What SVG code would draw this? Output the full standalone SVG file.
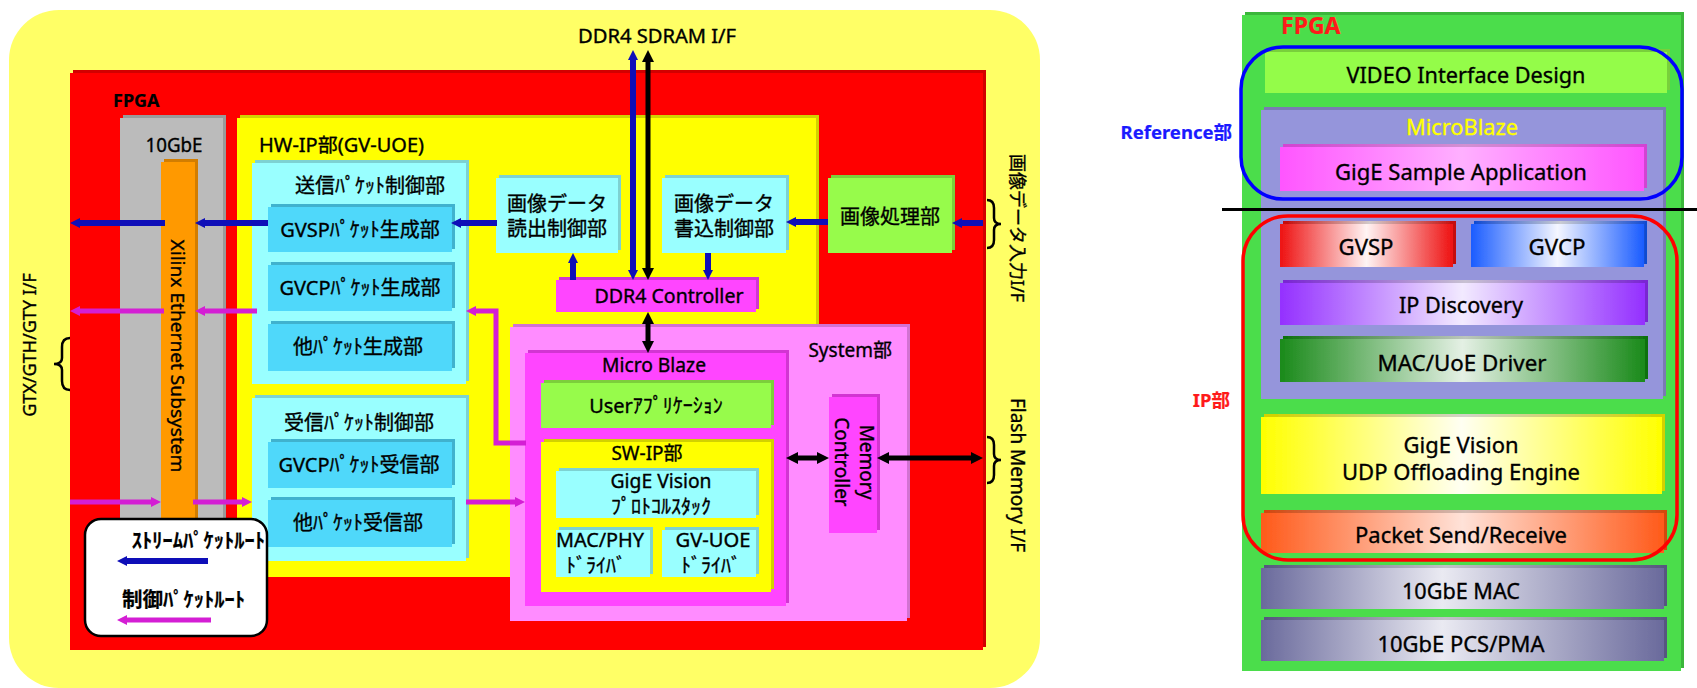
<svg xmlns="http://www.w3.org/2000/svg" width="1697" height="688" viewBox="0 0 1697 688">
<style>
text { font-family: 'Noto Sans', 'Noto Sans CJK JP', sans-serif; fill: #000; stroke: #000; stroke-width: 0.35px; font-size: 19px; }
.c { text-anchor: middle; }
.e { text-anchor: end; }
.j { font-size: 20px; }
.r { font-size: 22px; }
.ex { filter: url(#ext); }
.cy { fill: #99FFFF; }
.bl { fill: #50D8FA; }
.ye { fill: #FFFF00; }
.gr { fill: #97FB4B; }
.mg { fill: #FF44FF; }
.pk { fill: #FF8CFF; }
.ab { stroke: #0E0EB8; stroke-width: 6; fill: none; }
.am { stroke: #D41ED4; stroke-width: 5; fill: none; }
.ak { stroke: #000; stroke-width: 5; fill: none; }
.brace { stroke: #000; stroke-width: 2.5; fill: none; }
.lg { font-weight: bold; font-size: 20.5px; stroke-width: 0.2px; }
</style>
<defs>
<filter id="ext" x="-20%" y="-20%" width="140%" height="140%">
<feOffset in="SourceGraphic" dx="3" dy="-3" result="o"/>
<feComponentTransfer in="o" result="d"><feFuncR type="linear" slope="0.65"/><feFuncG type="linear" slope="0.65"/><feFuncB type="linear" slope="0.65"/></feComponentTransfer>
<feMerge><feMergeNode in="d"/><feMergeNode in="SourceGraphic"/></feMerge>
</filter>
<marker id="hb" viewBox="0 0 10 10" refX="2" refY="5" markerWidth="10" markerHeight="10" markerUnits="userSpaceOnUse" orient="auto-start-reverse"><path d="M0,0 L10,5 L0,10 z" fill="#0E0EB8"/></marker>
<marker id="hm" viewBox="0 0 10 10" refX="2" refY="5" markerWidth="10" markerHeight="10" markerUnits="userSpaceOnUse" orient="auto-start-reverse"><path d="M0,0 L10,5 L0,10 z" fill="#D41ED4"/></marker>
<marker id="hk" viewBox="0 0 12 12" refX="2" refY="6" markerWidth="12" markerHeight="12" markerUnits="userSpaceOnUse" orient="auto-start-reverse"><path d="M0,0 L12,6 L0,12 z" fill="#000"/></marker>
<linearGradient id="gRed"><stop offset="0" stop-color="#EE1111"/><stop offset="0.5" stop-color="#FFF4F4"/><stop offset="1" stop-color="#EE1111"/></linearGradient>
<linearGradient id="gBlue"><stop offset="0" stop-color="#1A5CFF"/><stop offset="0.5" stop-color="#F4F6FF"/><stop offset="1" stop-color="#1A5CFF"/></linearGradient>
<linearGradient id="gPur"><stop offset="0" stop-color="#9430FF"/><stop offset="0.5" stop-color="#F2EAFF"/><stop offset="1" stop-color="#9430FF"/></linearGradient>
<linearGradient id="gGrn"><stop offset="0" stop-color="#1A8A1A"/><stop offset="0.5" stop-color="#E4F0E4"/><stop offset="1" stop-color="#1A8A1A"/></linearGradient>
<linearGradient id="gYel"><stop offset="0" stop-color="#FFFF00"/><stop offset="0.5" stop-color="#FFFFF2"/><stop offset="1" stop-color="#FFFF00"/></linearGradient>
<linearGradient id="gOra"><stop offset="0" stop-color="#FF5A1A"/><stop offset="0.5" stop-color="#FFE2D8"/><stop offset="1" stop-color="#FF5A1A"/></linearGradient>
<linearGradient id="gSla"><stop offset="0" stop-color="#6A6A9C"/><stop offset="0.45" stop-color="#EAEAF2"/><stop offset="1" stop-color="#6A6A9C"/></linearGradient>
<linearGradient id="gPnk"><stop offset="0" stop-color="#FF55FF"/><stop offset="0.5" stop-color="#FFB0FF"/><stop offset="1" stop-color="#FF55FF"/></linearGradient>
</defs>

<!-- LEFT DIAGRAM -->
<g id="outer"><rect x="9" y="10" width="1031" height="678" rx="50" fill="#FFFF66"/></g>
<g id="fpga-left"><rect class="ex" x="70" y="73" width="913" height="577" fill="#FF0000"/><text x="113" y="107" style="font-weight:bold;font-size:18px;stroke-width:0.2px">FPGA</text></g>
<g id="tengbe"><rect class="ex" x="120" y="118" width="103" height="442" fill="#BBBBBB"/><text class="c" x="174" y="152" textLength="57" lengthAdjust="spacingAndGlyphs">10GbE</text></g>
<g id="xilinx"><rect class="ex" x="161" y="162" width="34" height="398" fill="#FF9900"/><text class="c" transform="translate(171,356) rotate(90)" style="font-size:18.5px" textLength="233" lengthAdjust="spacingAndGlyphs">Xilinx Ethernet Subsystem</text></g>
<g id="hwip"><rect class="ex" x="237" y="118" width="579" height="459" fill="#FFFF00"/><text x="259" y="152" textLength="165" lengthAdjust="spacingAndGlyphs">HW-IP部(GV-UOE)</text></g>
<g id="send"><rect class="ex cy" x="252" y="163" width="214" height="221"/><text class="c j" x="370" y="193">送信ﾊﾟｹｯﾄ制御部</text></g>
<g id="gvsp-gen"><rect class="ex bl" x="268" y="207" width="184" height="45"/><text class="c j" x="360" y="237">GVSPﾊﾟｹｯﾄ生成部</text></g>
<g id="gvcp-gen"><rect class="ex bl" x="268" y="265" width="184" height="46"/><text class="c j" x="360" y="295">GVCPﾊﾟｹｯﾄ生成部</text></g>
<g id="other-gen"><rect class="ex bl" x="268" y="324" width="184" height="47"/><text class="c j" x="358" y="354">他ﾊﾟｹｯﾄ生成部</text></g>
<g id="recv"><rect class="ex cy" x="252" y="398" width="214" height="163"/><text class="c j" x="359" y="430">受信ﾊﾟｹｯﾄ制御部</text></g>
<g id="gvcp-recv"><rect class="ex bl" x="268" y="442" width="184" height="46"/><text class="c j" x="359" y="472">GVCPﾊﾟｹｯﾄ受信部</text></g>
<g id="other-recv"><rect class="ex bl" x="268" y="500" width="184" height="47"/><text class="c j" x="358" y="530">他ﾊﾟｹｯﾄ受信部</text></g>
<g id="read"><rect class="ex cy" x="496" y="178" width="122" height="75"/><text class="c j" x="557" y="211">画像データ</text><text class="c j" x="557" y="236">読出制御部</text></g>
<g id="write"><rect class="ex cy" x="662" y="178" width="124" height="75"/><text class="c j" x="724" y="211">画像データ</text><text class="c j" x="724" y="236">書込制御部</text></g>
<g id="imgproc"><rect class="ex gr" x="828" y="178" width="124" height="75"/><text class="c j" x="890" y="224">画像処理部</text></g>
<g id="ddr4ctrl"><rect class="ex mg" x="556" y="280" width="200" height="32"/><text class="c" x="669" y="303" textLength="149" lengthAdjust="spacingAndGlyphs">DDR4 Controller</text></g>
<g id="system"><rect class="ex pk" x="510" y="327" width="397" height="294"/><text class="e" x="892" y="357">System部</text></g>
<g id="microblaze"><rect class="ex mg" x="525" y="353" width="261" height="253"/><text class="c" x="654" y="372" textLength="104" lengthAdjust="spacingAndGlyphs">Micro Blaze</text></g>
<g id="userapp"><rect class="ex gr" x="541" y="383" width="230" height="45"/><text class="c j" x="656" y="413">Userｱﾌﾟﾘｹｰｼｮﾝ</text></g>
<g id="swip"><rect class="ex ye" x="541" y="442" width="230" height="150"/><text class="c" x="647" y="460">SW-IP部</text></g>
<g id="gige-stack"><rect class="ex cy" x="556" y="471" width="200" height="47"/><text class="c" x="661" y="488" textLength="101" lengthAdjust="spacingAndGlyphs">GigE Vision</text><text class="c j" x="661" y="514">ﾌﾟﾛﾄｺﾙｽﾀｯｸ</text></g>
<g id="macphy"><rect class="ex cy" x="556" y="530" width="94" height="47"/><text class="c" x="600" y="547" textLength="88" lengthAdjust="spacingAndGlyphs">MAC/PHY</text><text class="c j" x="596" y="573">ﾄﾞﾗｲﾊﾞ</text></g>
<g id="gvuoe-drv"><rect class="ex cy" x="662" y="530" width="94" height="47"/><text class="c" x="713" y="547" textLength="75" lengthAdjust="spacingAndGlyphs">GV-UOE</text><text class="c j" x="711" y="573">ﾄﾞﾗｲﾊﾞ</text></g>
<g id="memctrl"><rect class="ex mg" x="829" y="397" width="48" height="136"/><text class="c" transform="translate(853,462) rotate(90)"><tspan x="0" y="-7">Memory</tspan><tspan x="0" y="18">Controller</tspan></text></g>
<g id="ddr-if"><text class="c" x="657" y="43" textLength="158" lengthAdjust="spacingAndGlyphs">DDR4 SDRAM I/F</text></g>
<g id="img-if"><path class="brace" d="M987,200 Q994,200 994,208 L994,218 Q994,224 1001,224 Q994,224 994,230 L994,240 Q994,248 987,248"/><text class="c j" transform="translate(1011,228) rotate(90)" style="font-size:18px">画像データ入力I/F</text></g>
<g id="flash-if"><path class="brace" d="M987,437 Q994,437 994,445 L994,454 Q994,460 1001,460 Q994,460 994,466 L994,475 Q994,483 987,483"/><text class="c" transform="translate(1011,475) rotate(90)">Flash Memory I/F</text></g>
<g id="gtx-if"><path class="brace" d="M70,338 Q62,338 62,347 L62,358 Q62,364 54,364 Q62,364 62,370 L62,381 Q62,390 70,390"/><text class="c" transform="translate(36,345) rotate(-90)" style="font-size:18px">GTX/GTH/GTY I/F</text></g>
<g id="legend"><rect x="85" y="519" width="182" height="117" rx="16" fill="#FFFFFF" stroke="#000" stroke-width="2.5"/><text class="e lg" x="265" y="548">ｽﾄﾘｰﾑﾊﾟｹｯﾄﾙｰﾄ</text><text class="lg" x="122" y="607">制御ﾊﾟｹｯﾄﾙｰﾄ</text></g>

<g id="connectors">
<line class="ab" x1="497" y1="223" x2="459" y2="223" marker-end="url(#hb)"/>
<line class="ab" x1="268" y1="223" x2="203" y2="223" marker-end="url(#hb)"/>
<line class="ab" x1="165" y1="223" x2="78" y2="223" marker-end="url(#hb)"/>
<line class="ab" x1="828" y1="222" x2="794" y2="222" marker-end="url(#hb)"/>
<line class="ab" x1="983" y1="223" x2="960" y2="223" marker-end="url(#hb)"/>
<line class="ab" x1="573" y1="280" x2="573" y2="261" marker-end="url(#hb)"/>
<line class="ab" x1="708" y1="253" x2="708" y2="272" marker-end="url(#hb)"/>
<line class="ab" x1="633" y1="58" x2="633" y2="272" marker-start="url(#hb)" marker-end="url(#hb)"/>
<line class="ak" x1="648" y1="60" x2="648" y2="270" marker-start="url(#hk)" marker-end="url(#hk)"/>
<line class="ak" x1="648" y1="322" x2="648" y2="343" marker-start="url(#hk)" marker-end="url(#hk)"/>
<line class="ak" x1="796" y1="458" x2="819" y2="458" marker-start="url(#hk)" marker-end="url(#hk)"/>
<line class="ak" x1="887" y1="458" x2="973" y2="458" marker-start="url(#hk)" marker-end="url(#hk)"/>
<line class="am" x1="257" y1="311" x2="203" y2="311" marker-end="url(#hm)"/>
<line class="am" x1="164" y1="311" x2="78" y2="311" marker-end="url(#hm)"/>
<polyline class="am" points="526,443 496,443 496,311 474,311" marker-end="url(#hm)"/>
<line class="am" x1="70" y1="502" x2="153" y2="502" marker-end="url(#hm)"/>
<line class="am" x1="193" y1="502" x2="244" y2="502" marker-end="url(#hm)"/>
<line class="am" x1="466" y1="502" x2="517" y2="502" marker-end="url(#hm)"/>
<line class="ab" x1="208" y1="561" x2="125" y2="561" marker-end="url(#hb)"/>
<line class="am" x1="211" y1="620" x2="125" y2="620" marker-end="url(#hm)"/>
</g>

<!-- RIGHT DIAGRAM -->
<g id="fpga-right"><rect class="ex" x="1242" y="15" width="439" height="656" fill="#4CDD4C"/><text x="1281" y="34" style="font-weight:bold;font-size:23px;fill:#FF1A1A;stroke:#FF1A1A;stroke-width:0.2px">FPGA</text></g>
<g id="video-if"><rect class="ex" x="1265" y="52" width="402" height="41" fill="#94FC4A"/><text class="c r" x="1466" y="83" textLength="239" lengthAdjust="spacingAndGlyphs">VIDEO Interface Design</text></g>
<g id="mb-right"><rect class="ex" x="1261" y="110" width="402" height="289" fill="#9595DB"/><text class="c r" x="1462" y="135" style="fill:#FFFF00;stroke:#FFFF00" textLength="112" lengthAdjust="spacingAndGlyphs">MicroBlaze</text></g>
<g id="sample-app"><rect class="ex" x="1280" y="147" width="364" height="44" fill="url(#gPnk)"/><text class="c r" x="1461" y="180" textLength="252" lengthAdjust="spacingAndGlyphs">GigE Sample Application</text></g>
<g id="gvsp"><rect class="ex" x="1280" y="224" width="173" height="43" fill="url(#gRed)"/><text class="c r" x="1366" y="255" textLength="55" lengthAdjust="spacingAndGlyphs">GVSP</text></g>
<g id="gvcp"><rect class="ex" x="1471" y="224" width="173" height="43" fill="url(#gBlue)"/><text class="c r" x="1557" y="255" textLength="57" lengthAdjust="spacingAndGlyphs">GVCP</text></g>
<g id="ipdisc"><rect class="ex" x="1280" y="283" width="365" height="42" fill="url(#gPur)"/><text class="c r" x="1461" y="313" textLength="124" lengthAdjust="spacingAndGlyphs">IP Discovery</text></g>
<g id="macuoe"><rect class="ex" x="1280" y="339" width="365" height="43" fill="url(#gGrn)"/><text class="c r" x="1462" y="371" textLength="169" lengthAdjust="spacingAndGlyphs">MAC/UoE Driver</text></g>
<g id="uoe"><rect class="ex" x="1261" y="417" width="401" height="77" fill="url(#gYel)"/><text class="c r" x="1461" y="453" textLength="115" lengthAdjust="spacingAndGlyphs">GigE Vision</text><text class="c r" x="1461" y="480" textLength="238" lengthAdjust="spacingAndGlyphs">UDP Offloading Engine</text></g>
<g id="pkt"><rect class="ex" x="1261" y="513" width="403" height="40" fill="url(#gOra)"/><text class="c r" x="1461" y="543" textLength="212" lengthAdjust="spacingAndGlyphs">Packet Send/Receive</text></g>
<g id="mac10g"><rect class="ex" x="1261" y="568" width="403" height="41" fill="url(#gSla)"/><text class="c r" x="1461" y="599" textLength="118" lengthAdjust="spacingAndGlyphs">10GbE MAC</text></g>
<g id="pcs10g"><rect class="ex" x="1261" y="620" width="403" height="41" fill="url(#gSla)"/><text class="c r" x="1461" y="652" textLength="167" lengthAdjust="spacingAndGlyphs">10GbE PCS/PMA</text></g>
<g id="ref-group"><rect x="1241" y="47" width="441" height="152" rx="42" fill="none" stroke="#0000FF" stroke-width="3.5"/><text class="e" x="1232" y="139" style="font-weight:bold;fill:#1A1AFF;stroke:#1A1AFF;stroke-width:0.2px;font-size:18.5px">Reference部</text></g>
<g id="ip-group"><rect x="1243" y="216" width="434" height="344" rx="45" fill="none" stroke="#FF0000" stroke-width="3.5"/><text class="e" x="1230" y="407" style="font-weight:bold;fill:#FF1A1A;stroke:#FF1A1A;stroke-width:0.2px;font-size:18.5px">IP部</text></g>
<g id="divider"><line x1="1222" y1="209.5" x2="1697" y2="209.5" stroke="#000" stroke-width="3"/></g>
</svg>
